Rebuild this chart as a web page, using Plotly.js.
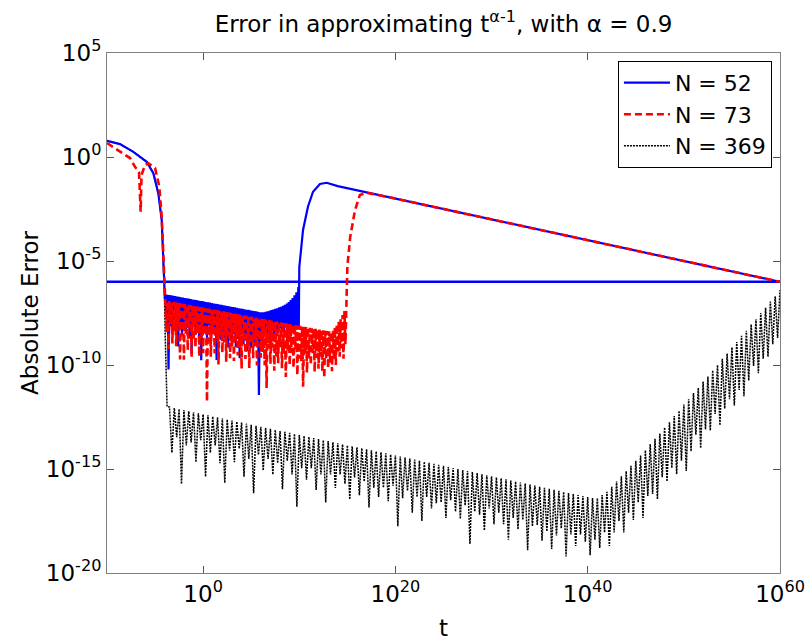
<!DOCTYPE html>
<html><head><meta charset="utf-8">
<script src="https://cdn.plot.ly/plotly-3.0.1.min.js"></script>
<style>html,body{margin:0;padding:0;background:#fff;} #chart{width:805px;height:642px;}</style>
</head><body><div id="chart"></div>
<script>
// Values, stored as base-10 exponents (log10 t, log10 error)
const xTickVals = [1, 1e20, 1e40, 1e60];
const xTickText = ['10<sup>0</sup>', '10<sup>20</sup>', '10<sup>40</sup>', '10<sup>60</sup>'];
const yTickVals = [1e-20, 1e-15, 1e-10, 1e-5, 1, 1e5];
const yTickText = ['10<sup>-20</sup>', '10<sup>-15</sup>', '10<sup>-10</sup>', '10<sup>-5</sup>', '10<sup>0</sup>', '10<sup>5</sup>'];

const tolT = [1e-10, 1e60];
const tolErr = [1e-6, 1e-6];

// sample grid of the oscillating region shared by N = 52 and N = 73
const bandLogT = [
-3.9, -3.8, -3.7, -3.6, -3.5, -3.4, -3.3, -3.2, -3.1, -3.0,
-2.9, -2.8, -2.7, -2.6, -2.5, -2.4, -2.3, -2.2, -2.1, -2.0,
-1.9, -1.8, -1.7, -1.6, -1.5, -1.4, -1.3, -1.2, -1.1, -1.0,
-0.9, -0.8, -0.7, -0.6, -0.5, -0.4, -0.3, -0.2, -0.1, 0.0,
0.1, 0.2, 0.3, 0.4, 0.5, 0.6, 0.7, 0.8, 0.9, 1.0,
1.1, 1.2, 1.3, 1.4, 1.5, 1.6, 1.7, 1.8, 1.9, 2.0,
2.1, 2.2, 2.3, 2.4, 2.5, 2.6, 2.7, 2.8, 2.9, 3.0,
3.1, 3.2, 3.3, 3.4, 3.5, 3.6, 3.7, 3.8, 3.9, 4.0,
4.1, 4.2, 4.3, 4.4, 4.5, 4.6, 4.7, 4.8, 4.9, 5.0,
5.1, 5.2, 5.3, 5.4, 5.5, 5.6, 5.7, 5.8, 5.9, 6.0,
6.1, 6.2, 6.3, 6.4, 6.5, 6.6, 6.7, 6.8, 6.9, 7.0,
7.1, 7.2, 7.3, 7.4, 7.5, 7.6, 7.7, 7.8, 7.9, 8.0,
8.1, 8.2, 8.3, 8.4, 8.5, 8.6, 8.7, 8.8, 8.9, 9.0,
9.1, 9.2, 9.3, 9.4, 9.5, 9.6, 9.7, 9.8, 9.9, 10.0,
10.1, 10.2, 10.3, 10.4, 10.5, 10.6, 10.7, 10.8, 10.9, 11.0,
11.1, 11.2, 11.3, 11.4, 11.5, 11.6, 11.7, 11.8, 11.9, 12.0,
12.1, 12.2, 12.3, 12.4, 12.5, 12.6, 12.7, 12.8, 12.9, 13.0,
13.1, 13.2, 13.3, 13.4, 13.5, 13.6, 13.7, 13.8, 13.9, 14.0,
14.1, 14.2, 14.3, 14.4, 14.5, 14.6, 14.7, 14.8, 14.9];

// N = 52
const n52_headLogT = [-10, -8.65, -7.26, -5.87, -5.18, -4.66, -4.31, -4.14, -4.04, -3.97];
const n52_headLogErr = [0.78, 0.62, 0.25, -0.23, -0.78, -1.75, -3.03, -4.62, -6.24, -6.88];
const n52_bandLogErr = [  // on bandLogT from -3.9 to 9.9
-6.60, -7.82, -6.62, -10.22, -6.64, -8.14, -6.65, -8.55, -6.67, -7.78,
-6.69, -8.29, -6.71, -9.11, -6.72, -8.02, -6.74, -8.54, -6.76, -7.96,
-6.78, -8.28, -6.79, -7.99, -6.81, -8.71, -6.83, -9.48, -6.85, -8.15,
-6.86, -8.56, -6.88, -8.08, -6.90, -9.00, -6.92, -9.77, -6.93, -8.33,
-6.95, -8.25, -6.97, -8.77, -6.99, -8.09, -7.00, -9.00, -7.02, -8.52,
-7.04, -8.44, -7.06, -9.76, -7.07, -8.27, -7.09, -8.79, -7.11, -8.41,
-7.13, -8.73, -7.14, -8.34, -7.16, -9.16, -7.18, -8.58, -7.20, -9.00,
-7.21, -8.51, -7.23, -9.13, -7.25, -8.75, -7.27, -9.67, -7.28, -8.48,
-7.30, -9.00, -7.32, -8.62, -7.34, -9.34, -7.35, -8.85, -7.37, -9.17,
-7.39, -8.59, -7.41, -9.01, -7.42, -8.72, -7.44, -11.44, -7.46, -8.86,
-7.47, -8.77, -7.46, -8.46, -7.44, -8.94, -7.42, -8.52, -7.39, -8.69,
-7.36, -8.36, -7.33, -8.63, -7.30, -8.40, -7.27, -8.47, -7.23, -8.23,
-7.20, -8.30, -7.15, -8.35, -7.10, -8.20, -7.04, -8.24, -6.97, -8.27,
-6.88, -8.25, -6.78, -8.20, -6.65, -8.30, -6.50, -8.20, -6.25];
const n52_tailLogT = [9.95, 10.0, 10.07, 10.39, 10.9, 11.43, 12.15, 12.85, 14, 20, 30, 40, 50, 60];
const n52_tailLogErr = [-8.2, -5.3, -4.95, -3.51, -2.39, -1.67, -1.3, -1.24, -1.4, -2.0, -3.0, -4.0, -5.0, -6.0];

// N = 73
const n73_headLogT = [-10, -8.65, -7.6, -7.09, -6.67, -6.5, -6.41, -6.05, -5.7, -5.0, -4.56, -4.31, -4.14, -3.97];
const n73_headLogErr = [0.67, 0.25, -0.05, -0.47, -0.72, -2.63, -0.87, -0.38, -0.30, -0.53, -1.43, -2.87, -4.63, -6.55];
const n73_bandLogErr = [  // on bandLogT from -3.9 to 14.9
-6.90, -8.42, -6.92, -9.23, -6.93, -8.05, -6.95, -8.96, -6.97, -8.38,
-6.99, -9.10, -7.00, -8.21, -7.02, -9.73, -7.04, -8.63, -7.06, -9.75,
-7.07, -8.49, -7.09, -9.29, -7.11, -8.21, -7.12, -9.62, -7.14, -8.82,
-7.16, -9.16, -7.18, -8.48, -7.20, -9.60, -7.21, -8.71, -7.23, -9.43,
-7.25, -8.55, -7.27, -11.77, -7.28, -8.88, -7.30, -9.60, -7.32, -8.52,
-7.34, -9.44, -7.35, -8.75, -7.37, -9.97, -7.39, -8.59, -7.41, -9.41,
-7.42, -8.92, -7.44, -9.84, -7.46, -8.56, -7.48, -9.68, -7.49, -9.19,
-7.51, -9.81, -7.53, -8.83, -7.54, -9.54, -7.56, -9.16, -7.58, -10.18,
-7.60, -8.80, -7.61, -9.71, -7.63, -9.13, -7.65, -10.15, -7.67, -8.97,
-7.68, -9.68, -7.70, -9.10, -7.72, -10.02, -7.73, -8.83, -7.75, -9.65,
-7.77, -9.37, -7.79, -10.01, -7.81, -11.11, -7.82, -9.22, -7.84, -9.94,
-7.86, -9.16, -7.88, -10.28, -7.89, -9.59, -7.91, -9.91, -7.93, -9.13,
-7.95, -10.15, -7.96, -9.46, -7.98, -10.58, -8.00, -9.30, -8.02, -10.02,
-8.03, -9.43, -8.05, -10.15, -8.07, -9.27, -8.09, -10.49, -8.10, -9.70,
-8.12, -9.82, -8.14, -11.04, -8.16, -9.46, -8.17, -10.37, -8.19, -9.69,
-8.21, -10.01, -8.23, -9.43, -8.24, -10.34, -8.26, -9.66, -8.28, -10.18,
-8.30, -9.60, -8.31, -10.31, -8.33, -10.63, -8.35, -9.75, -8.37, -10.17,
-8.38, -9.88, -8.40, -10.30, -8.35, -9.75, -8.20, -10.00, -8.05, -9.35,
-7.90, -9.60, -7.80, -9.20, -7.60, -9.70, -7.40, -9.00, -7.10];
const n73_tailLogT = [15.0, 15.3, 15.8, 16.3, 17.0, 20, 30, 40, 50, 60];
const n73_tailLogErr = [-5.27, -3.83, -2.55, -1.83, -1.72, -2.0, -3.0, -4.0, -5.0, -6.0];

// N = 369
const n369_headLogT = [-10, -8.65, -7.26, -5.87, -5.18, -4.66, -4.31, -4.14, -4.04, -3.95, -3.85, -3.75];
const n369_headLogErr = [0.78, 0.62, 0.25, -0.23, -0.78, -1.75, -3.03, -4.62, -6.24, -8.5, -10.5, -12.0];
const n369_bandLogT = [
-3.5, -3.25, -3.0, -2.75, -2.5, -2.25, -2.0, -1.75,
-1.5, -1.25, -1.0, -0.75, -0.5, -0.25, 0.0, 0.25,
0.5, 0.75, 1.0, 1.25, 1.5, 1.75, 2.0, 2.25,
2.5, 2.75, 3.0, 3.25, 3.5, 3.75, 4.0, 4.25,
4.5, 4.75, 5.0, 5.25, 5.5, 5.75, 6.0, 6.25,
6.5, 6.75, 7.0, 7.25, 7.5, 7.75, 8.0, 8.25,
8.5, 8.75, 9.0, 9.25, 9.5, 9.75, 10.0, 10.25,
10.5, 10.75, 11.0, 11.25, 11.5, 11.75, 12.0, 12.25,
12.5, 12.75, 13.0, 13.25, 13.5, 13.75, 14.0, 14.25,
14.5, 14.75, 15.0, 15.25, 15.5, 15.75, 16.0, 16.25,
16.5, 16.75, 17.0, 17.25, 17.5, 17.75, 18.0, 18.25,
18.5, 18.75, 19.0, 19.25, 19.5, 19.75, 20.0, 20.25,
20.5, 20.75, 21.0, 21.25, 21.5, 21.75, 22.0, 22.25,
22.5, 22.75, 23.0, 23.25, 23.5, 23.75, 24.0, 24.25,
24.5, 24.75, 25.0, 25.25, 25.5, 25.75, 26.0, 26.25,
26.5, 26.75, 27.0, 27.25, 27.5, 27.75, 28.0, 28.25,
28.5, 28.75, 29.0, 29.25, 29.5, 29.75, 30.0, 30.25,
30.5, 30.75, 31.0, 31.25, 31.5, 31.75, 32.0, 32.25,
32.5, 32.75, 33.0, 33.25, 33.5, 33.75, 34.0, 34.25,
34.5, 34.75, 35.0, 35.25, 35.5, 35.75, 36.0, 36.25,
36.5, 36.75, 37.0, 37.25, 37.5, 37.75, 38.0, 38.25,
38.5, 38.75, 39.0, 39.25, 39.5, 39.75, 40.0, 40.25,
40.5, 40.75, 41.0, 41.25, 41.5, 41.75, 42.0, 42.25,
42.5, 42.75, 43.0, 43.25, 43.5, 43.75, 44.0, 44.25,
44.5, 44.75, 45.0, 45.25, 45.5, 45.75, 46.0, 46.25,
46.5, 46.75, 47.0, 47.25, 47.5, 47.75, 48.0, 48.25,
48.5, 48.75, 49.0, 49.25, 49.5, 49.75, 50.0, 50.25,
50.5, 50.75, 51.0, 51.25, 51.5, 51.75, 52.0, 52.25,
52.5, 52.75, 53.0, 53.25, 53.5, 53.75, 54.0, 54.25,
54.5, 54.75, 55.0, 55.25, 55.5, 55.75, 56.0, 56.25,
56.5, 56.75, 57.0, 57.25, 57.5, 57.75, 58.0, 58.25,
58.5, 58.75, 59.0, 59.25, 59.5, 59.75, 60.0];
const n369_bandLogErr = [
-12.02, -14.22, -12.07, -13.47, -12.12, -15.72, -12.17, -13.87,
-12.22, -13.72, -12.27, -14.67, -12.32, -13.62, -12.37, -15.37,
-12.42, -14.22, -12.47, -13.87, -12.52, -14.72, -12.57, -15.67,
-12.62, -14.12, -12.67, -14.67, -12.72, -14.02, -12.77, -15.37,
-12.82, -14.52, -12.87, -16.17, -12.92, -14.32, -12.97, -15.07,
-13.02, -14.52, -13.07, -15.27, -13.12, -14.72, -13.17, -15.97,
-13.21, -14.61, -13.26, -15.26, -13.31, -16.81, -13.36, -14.96,
-13.41, -15.51, -13.46, -14.96, -13.51, -16.01, -13.56, -15.26,
-13.61, -16.61, -13.66, -15.26, -13.71, -15.91, -13.76, -15.26,
-13.81, -15.71, -13.86, -16.46, -13.91, -15.41, -13.96, -16.26,
-14.00, -15.60, -14.05, -16.85, -14.10, -15.90, -14.15, -16.35,
-14.20, -15.90, -14.25, -16.55, -14.30, -15.80, -14.35, -17.75,
-14.40, -16.40, -14.45, -16.05, -14.50, -17.10, -14.55, -16.35,
-14.60, -17.50, -14.65, -16.35, -14.70, -16.90, -14.75, -16.65,
-14.80, -16.60, -14.85, -17.35, -14.90, -16.50, -14.95, -17.05,
-15.00, -17.40, -15.05, -16.75, -15.10, -18.60, -15.15, -17.05,
-15.20, -17.20, -15.25, -17.95, -15.30, -16.90, -15.35, -17.65,
-15.40, -17.10, -15.45, -17.65, -15.50, -18.40, -15.55, -17.35,
-15.60, -17.90, -15.65, -17.45, -15.70, -18.90, -15.75, -17.75,
-15.80, -17.70, -15.85, -18.45, -15.90, -18.00, -15.95, -18.85,
-16.00, -18.20, -16.05, -17.85, -16.10, -19.20, -16.15, -18.15,
-16.20, -18.70, -16.25, -18.15, -16.30, -18.50, -16.35, -19.15,
-16.40, -18.40, -16.40, -18.80, -16.25, -18.05, -16.10, -18.70,
-15.85, -18.05, -15.60, -17.50, -15.35, -18.05, -15.10, -17.10,
-14.85, -17.45, -14.60, -16.60, -14.35, -17.35, -14.10, -16.30,
-13.80, -16.20, -13.55, -16.45, -13.30, -15.40, -13.00, -15.60,
-12.75, -14.95, -12.45, -15.25, -12.20, -14.60, -11.90, -15.10,
-11.65, -14.15, -11.35, -13.35, -11.10, -14.00, -10.80, -13.10,
-10.55, -13.15, -10.25, -12.35, -10.00, -12.90, -9.70, -12.10,
-9.45, -11.65, -9.15, -11.95, -8.90, -11.20, -8.60, -11.50,
-8.35, -10.75, -8.05, -10.05, -7.80, -10.40, -7.50, -9.70,
-7.25, -9.60, -6.95, -9.00, -6.70, -8.70, -6.40];

const fromExp = a => a.map(v => Math.pow(10, v));

const n52_T = n52_headLogT.concat(bandLogT.slice(0, n52_bandLogErr.length), n52_tailLogT);
const n52_E = n52_headLogErr.concat(n52_bandLogErr, n52_tailLogErr);
const n73_T = n73_headLogT.concat(bandLogT.slice(0, n73_bandLogErr.length), n73_tailLogT);
const n73_E = n73_headLogErr.concat(n73_bandLogErr, n73_tailLogErr);
const n369_T = n369_headLogT.concat(n369_bandLogT);
const n369_E = n369_headLogErr.concat(n369_bandLogErr);

const traces = [
  {name: 'N = 369', x: fromExp(n369_T), y: fromExp(n369_E), mode: 'lines',
   line: {color: '#000000', width: 1.5, dash: '2px,1px'}, legendrank: 3},
  {name: 'N = 52', x: fromExp(n52_T), y: fromExp(n52_E), mode: 'lines',
   line: {color: '#0000ff', width: 2.2}, legendrank: 1},
  {name: 'tol', x: tolT, y: tolErr, mode: 'lines', showlegend: false,
   line: {color: '#0000ff', width: 2.5}},
  {name: 'N = 73', x: fromExp(n73_T), y: fromExp(n73_E), mode: 'lines',
   line: {color: '#ff0000', width: 2.6, dash: '7px,4px'}, legendrank: 2}
];

const axisCommon = {
  showline: true, linecolor: '#808080', linewidth: 1, mirror: 'ticks',
  ticks: 'inside', ticklen: 7, tickcolor: '#555555', tickwidth: 1,
  showgrid: false, zeroline: false, tickmode: 'array',
  ticklabeloverflow: 'allow',
  tickfont: {size: 23, color: '#000'}
};

const layout = {
  width: 805, height: 642,
  margin: {l: 107, r: 25, t: 53, b: 69},
  paper_bgcolor: '#ffffff', plot_bgcolor: '#ffffff',
  font: {family: 'DejaVu Sans', color: '#000000'},
  showlegend: true,
  title: {text: 'Error in approximating t<sup>α-1</sup>, with α = 0.9',
          font: {size: 23, color: '#000'}, x: 0.5, xref: 'paper', xanchor: 'center',
          y: 0.963, yref: 'container', yanchor: 'middle'},
  xaxis: Object.assign({}, axisCommon, {
    type: 'log', range: [-10, 60], tickvals: xTickVals, ticktext: xTickText,
    title: {text: 't', font: {size: 23}, standoff: 14}
  }),
  yaxis: Object.assign({}, axisCommon, {
    type: 'log', range: [-20, 5], tickvals: yTickVals, ticktext: yTickText,
    title: {text: 'Absolute Error', font: {size: 23}, standoff: 0}
  }),
  legend: {x: 0.988, xanchor: 'right', y: 0.985, yanchor: 'top',
           bordercolor: '#000000', borderwidth: 1, bgcolor: '#ffffff',
           font: {size: 22}, itemwidth: 46, tracegroupgap: 0}
};

Plotly.newPlot('chart', traces, layout, {displayModeBar: false, staticPlot: true});
</script></body></html>
